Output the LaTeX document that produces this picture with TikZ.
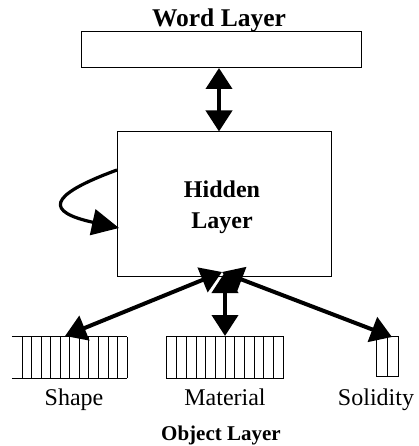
\documentclass[tikz,border=0pt]{standalone}
\usepackage{fontspec}
\setmainfont{Liberation Serif}
\usetikzlibrary{arrows.meta}
\tikzset{
  boxline/.style={draw=black, line width=1pt},
  thinline/.style={draw=black, line width=0.8pt},
  bigarrow/.style={line width=4pt, {Triangle[length=21pt,width=26pt]}-{Triangle[length=21pt,width=26pt]}},
  looparrow/.style={line width=3.2pt, -{Triangle[length=27pt,width=26pt]}},
  lbl/.style={inner sep=0pt, anchor=base, font=\fontsize{24}{28}\selectfont},
  blbl/.style={inner sep=0pt, anchor=base, font=\fontsize{24}{28}\selectfont\bfseries},
  objbox/.style={inner sep=0pt, minimum height=41pt}
}
\begin{document}
\begin{tikzpicture}[x=1pt,y=-1pt]
\useasboundingbox (0,0) rectangle (418,446);
% word layer
\node[blbl, font=\fontsize{25.5}{28}\selectfont\bfseries] (wordtxt) at (219,26.7) {Word Layer};
\node[boxline, inner sep=0pt, minimum width=280pt, minimum height=36.5pt] (word) at (221,49.75) {};
% hidden layer
\node[boxline, inner sep=0pt, minimum width=214pt, minimum height=144.5pt] (hidden) at (224,203.75) {};
\node[blbl] (hid1) at (222,197) {Hidden};
\node[blbl] (hid2) at (222,228) {Layer};
% connectors word-hidden
\coordinate (wb) at (219,68);
\coordinate (ht) at (219,131.5);
\draw[bigarrow] (wb) -- (ht);
% self loop
\coordinate (ls) at (117,170);
\coordinate (le) at (119,228);
\draw[looparrow] (ls) .. controls (46,196) and (46,212) .. (le);
% object boxes
\node[objbox, minimum width=115pt] (shape) at (69.5,357.5) {};
\node[objbox, minimum width=116pt] (material) at (225,357.5) {};
\node[objbox, minimum width=22pt, minimum height=39pt] (solid) at (387.5,356.5) {};
% shape box lines (no left edge)
\draw[thinline] (shape.north west) -- (shape.north east) (shape.south west) -- (shape.south east);
\foreach \k in {0,...,11} {\draw[thinline] ({22+\k*9.545},337) -- ({22+\k*9.545},378);}
% material
\draw[thinline] (material.north west) rectangle (material.south east);
\foreach \k in {1,...,11} {\draw[thinline] ({167+\k*9.667},337) -- ({167+\k*9.667},378);}
% solidity
\draw[thinline] (solid.north west) rectangle (solid.south east);
\draw[thinline] (solid.north) -- (solid.south);
% labels
\node[lbl] (shapetxt) at (74,405) {Shape};
\node[lbl] (mattxt) at (225,405) {Material};
\node[lbl] (soltxt) at (376,405) {Solidity};
\node[blbl, font=\fontsize{21}{25}\selectfont\bfseries] (objtxt) at (221,440) {Object Layer};
% bottom arrows
\coordinate (hb) at (222,272);
\coordinate (hbm) at (225,272);
\coordinate (st) at (65,336);
\coordinate (mt) at (225,336);
\coordinate (sot) at (392,337);
\draw[bigarrow] (hb) -- (st);
\draw[bigarrow] (hbm) -- (mt);
\draw[bigarrow] (hb) -- (sot);
\end{tikzpicture}
\end{document}
